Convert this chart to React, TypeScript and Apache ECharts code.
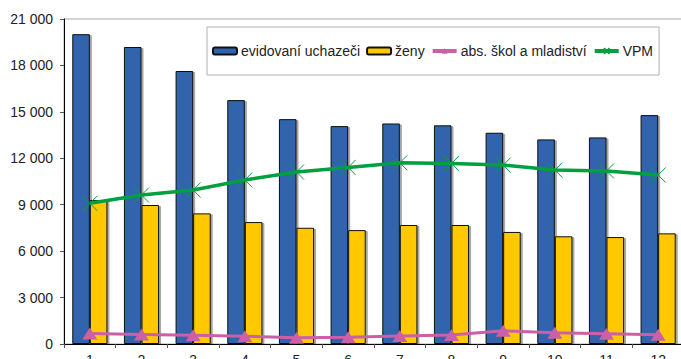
import React, { useEffect, useRef } from "react";
import * as echarts from "echarts";

const categories = ["1", "2", "3", "4", "5", "6", "7", "8", "9", "10", "11", "12"];
const evidovani = [20020, 19190, 17640, 15760, 14530, 14080, 14250, 14130, 13650, 13220, 13350, 14790];
const zeny = [9300, 8980, 8440, 7880, 7510, 7360, 7690, 7690, 7240, 6960, 6910, 7150];
const absSkol = [680, 620, 560, 500, 410, 430, 520, 580, 860, 730, 670, 600];
const vpm = [9090, 9625, 9950, 10600, 11110, 11410, 11710, 11670, 11560, 11240, 11180, 10920];
const yTicks = { min: 0, max: 21000, interval: 3000 };

const FONT = "'Liberation Sans', Arial, sans-serif";

export default function App() {
  const ref = useRef<HTMLDivElement>(null);
  useEffect(() => {
    if (!ref.current) return;
    const chart = echarts.init(ref.current, null, { renderer: "svg" });
    const fmt = (v: number) => String(v).replace(/\B(?=(\d{3})+(?!\d))/g, " ");
    chart.setOption({
      animation: false,
      backgroundColor: "#ffffff",
      textStyle: { fontFamily: FONT },
      grid: {
        left: 64,
        top: 19,
        right: -3,
        bottom: 15,
        containLabel: false,
        outerBoundsMode: "none",
        show: true,
        borderColor: "#aaaaaa",
        borderWidth: 1,
      },
      legend: {
        left: 207,
        top: 27,
        padding: [17, 6, 17, 5],
        itemGap: 6,
        itemWidth: 24,
        itemHeight: 7,
        borderColor: "#b0b0b0",
        borderWidth: 1,
        textStyle: { fontSize: 14, color: "#222", fontFamily: FONT, padding: [0, 0, 0, -1] },
        data: [
          { name: "evidovaní uchazeči" },
          { name: "ženy" },
          { name: "abs. škol a mladiství", lineStyle: { width: 4 } },
          { name: "VPM", lineStyle: { width: 4 } },
        ],
      },
      xAxis: {
        type: "category",
        data: categories,
        axisLine: { lineStyle: { color: "#000", width: 1 } },
        axisTick: { show: true, length: 4, lineStyle: { color: "#555" } },
        axisLabel: { fontSize: 14, color: "#222", margin: 9, fontFamily: FONT },
      },
      yAxis: {
        type: "value",
        min: yTicks.min,
        max: yTicks.max,
        interval: yTicks.interval,
        splitLine: { show: false },
        axisLine: { show: true, lineStyle: { color: "#000", width: 1 } },
        axisTick: { show: true, length: 4, lineStyle: { color: "#555" } },
        axisLabel: { fontSize: 14, color: "#222", margin: 11, fontFamily: FONT, formatter: fmt },
      },
      series: [
        {
          name: "evidovaní uchazeči",
          type: "bar",
          data: evidovani,
          barGap: "0%",
          barCategoryGap: "32%",
          itemStyle: {
            color: "#3063ad",
            borderColor: "#111",
            borderWidth: 1,
            shadowColor: "rgba(0,0,0,0.35)",
            shadowOffsetX: 2,
            shadowOffsetY: 1,
            shadowBlur: 1,
          },
        },
        {
          name: "ženy",
          type: "bar",
          data: zeny,
          itemStyle: {
            color: "#ffc800",
            borderColor: "#111",
            borderWidth: 1,
            shadowColor: "rgba(0,0,0,0.35)",
            shadowOffsetX: 2,
            shadowOffsetY: 1,
            shadowBlur: 1,
          },
        },
        {
          name: "abs. škol a mladiství",
          type: "line",
          data: absSkol,
          symbol: "triangle",
          symbolSize: [15, 12],
          lineStyle: { color: "#cc60a8", width: 3 },
          itemStyle: { color: "#cc60a8", borderWidth: 0 },
        },
        {
          name: "VPM",
          type: "line",
          data: vpm,
          symbol: "path://M0,0L10,10M10,0L0,10",
          symbolSize: 15,
          lineStyle: { color: "#00a040", width: 3.5 },
          itemStyle: { color: "#00a040", borderColor: "#00a040", borderWidth: 1 },
        },
      ],
    });
    return () => chart.dispose();
  }, []);
  return <div ref={ref} style={{ width: 681, height: 359, position: "absolute", left: 0, top: 0 }} />;
}
